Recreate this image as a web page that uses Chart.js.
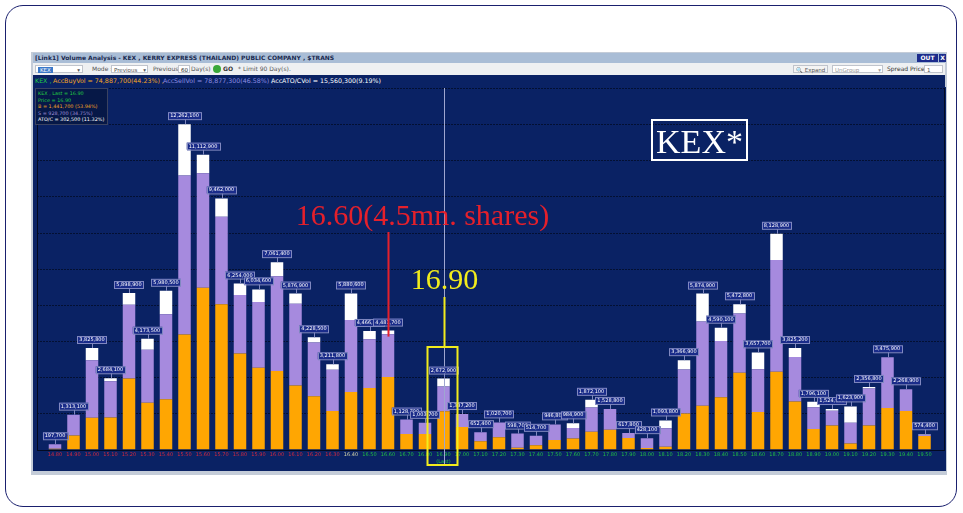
<!DOCTYPE html>
<html>
<head>
<meta charset="utf-8">
<script src="https://cdn.jsdelivr.net/npm/chart.js@4.4.1/dist/chart.umd.min.js"></script>
<style>
  body { margin: 0; background: #fff; width: 963px; height: 513px; overflow: hidden; font-family: 'DejaVu Sans', sans-serif; }
  .abs { position: absolute; }
  #frame { left: 5px; top: 5px; width: 950px; height: 500px; border: 1.8px solid #1a206e; border-radius: 18px; }
  #shot { left: 31px; top: 52px; width: 916px; height: 423px; background: #c4ccd8; }
  #titlebar { left: 33px; top: 53px; width: 912px; height: 10px; background: #a9bdd6; font: bold 6px 'DejaVu Sans'; color: #1a2a50; line-height: 10px; white-space: nowrap; }
  #toolbar { left: 33px; top: 63px; width: 912px; height: 12px; background: #eef0f2; font: 6px 'DejaVu Sans'; color: #555; line-height: 12px; white-space: nowrap; }
  #infobar { left: 33px; top: 75px; width: 912px; height: 12px; background: #0a2264; font: 6.3px 'DejaVu Sans'; line-height: 12px; white-space: nowrap; }
  .box { position: absolute; top: 2px; height: 8px; background: #fff; border: 1px solid #c0c4cc; line-height: 8px; font-size: 5.5px; color: #555; box-sizing: border-box; padding-left: 2px; }
  #legendBox { left: 35px; top: 88px; width: 73px; height: 37px; background: #061847; border: 1px solid #3a4260; font: 4.9px 'DejaVu Sans'; line-height: 6.6px; padding: 1px 0 0 2px; box-sizing: border-box; white-space: nowrap; overflow: hidden; }
  #volChart { position: absolute; left: 33px; top: 87px; }
</style>
</head>
<body>
<div id="frame" class="abs"></div>
<div id="shot" class="abs"></div>
<div id="titlebar" class="abs">
  <span style="position:absolute;left:2px">[Link1] Volume Analysis - KEX , KERRY EXPRESS (THAILAND) PUBLIC COMPANY , $TRANS</span>
  <span style="position:absolute;left:884px;top:1px;width:21px;height:8px;background:#1c2c8c;color:#fff;line-height:8px;text-align:center">OUT</span>
  <span style="position:absolute;left:906px;top:1px;width:7px;height:8px;background:#1c2c8c;color:#fff;line-height:8px;text-align:center">X</span>
</div>
<div id="toolbar" class="abs">
  <span class="box" style="left:2px;width:48px"><span style="background:#3a78c8;color:#fff;padding:0 2px">KEX</span><span style="position:absolute;right:2px">▾</span></span>
  <span style="position:absolute;left:59px">Mode :</span>
  <span class="box" style="left:78px;width:37px">Previous<span style="position:absolute;right:1px">▾</span></span>
  <span style="position:absolute;left:120px">Previous :</span>
  <span class="box" style="left:145px;width:12px;color:#222">60</span>
  <span style="position:absolute;left:158px">Day(s)</span>
  <span style="position:absolute;left:180px;top:2px;width:8px;height:8px;border-radius:4px;background:#3aa83a"></span>
  <span style="position:absolute;left:190px;font-weight:bold;color:#333">GO</span>
  <span style="position:absolute;left:205px">* Limit 90 Day(s).</span>
  <span class="box" style="left:760px;width:35px;background:#f4f4f4">🔍 Expand</span>
  <span class="box" style="left:799px;width:51px;color:#999">UnGroup<span style="position:absolute;right:1px">▾</span></span>
  <span style="position:absolute;left:854px;color:#333">Spread Price :</span>
  <span class="box" style="left:891px;width:19px">1</span>
</div>
<div id="infobar" class="abs">
  <span style="position:absolute;left:2px;color:#22cc44">KEX ,</span>
  <span style="position:absolute;left:20px;color:#f5a623">AccBuyVol = 74,887,700(44.23%) ,</span>
  <span style="position:absolute;left:130px;color:#8c8ce0">AccSellVol = 78,877,300(46.58%) ,</span>
  <span style="position:absolute;left:238px;color:#ffffff">AccATO/CVol = 15,560,300(9.19%)</span>
</div>
<canvas id="volChart" width="913" height="384"></canvas>
<div id="legendBox" class="abs">
  <div style="color:#22cc44">KEX , Last = 16.90</div>
  <div style="color:#22cc44">Price = 16.90</div>
  <div style="color:#f5a623">B = 1,441,700 (53.94%)</div>
  <div style="color:#a090d8">S = 928,700 (34.75%)</div>
  <div style="color:#ffffff">ATO/C = 302,500 (11.32%)</div>
</div>
<script>
// price steps (x axis)
const priceLabels = ['14.80', '14.90', '15.00', '15.10', '15.20', '15.30', '15.40', '15.50', '15.60', '15.70',
	'15.80', '15.90', '16.00', '16.10', '16.20', '16.30', '16.40', '16.50', '16.60', '16.70',
	'16.80', '16.90', '17.00', '17.10', '17.20', '17.30', '17.40', '17.50', '17.60', '17.70',
	'17.80', '17.90', '18.00', '18.10', '18.20', '18.30', '18.40', '18.50', '18.60', '18.70',
	'18.80', '18.90', '19.00', '19.10', '19.20', '19.30', '19.40', '19.50'];

// buy volume (orange)
const buyVol = [30000, 530000, 1200000, 1210000, 2680000, 1760000, 1890000, 4330000, 6100000, 5470000,
	3620000, 3080000, 2960000, 2410000, 2010000, 1450000, 2170000, 2320000, 2730000, 580000,
	580000, 1441700, 850000, 310000, 460000, 70000, 160000, 360000, 410000, 670000,
	740000, 430000, 60000, 100000, 1360000, 1650000, 1970000, 2890000, 1410000, 2930000,
	1810000, 770000, 900000, 230000, 900000, 1560000, 1450000, 510000];

// sell volume (purple)
const sellVol = [167700, 783100, 2165800, 1364100, 2778900, 2003500, 3210500, 5992100, 4312900, 3302000,
	2204000, 2474600, 3571400, 3086900, 2018500, 1551800, 2710600, 1836900, 1611700, 548700,
	423700, 928700, 487200, 342400, 560700, 528700, 354700, 586800, 404900, 912100,
	788800, 187800, 368100, 703800, 1656900, 3174900, 2120100, 2232800, 1617700, 4208900,
	1675200, 826100, 564900, 773900, 1396800, 1915900, 818900, 44400];

// ATO/C volume (white)
const atoVol = [0, 0, 460000, 110000, 440000, 410000, 880000, 1940000, 700000, 690000,
	430000, 480000, 530000, 380000, 200000, 210000, 1000000, 310000, 140000, 0,
	0, 302500, 0, 0, 0, 0, 0, 0, 170000, 290000,
	0, 0, 0, 290000, 350000, 1050000, 500000, 350000, 630000, 990000,
	340000, 200000, 60000, 620000, 60000, 0, 0, 20000];

// total volume written above each bar
const totalVol = [197700, 1313100, 3825800, 2684100, 5898900, 4173500, 5980500, 12262100, 11112900, 9462000,
	6254000, 6034600, 7061400, 5876900, 4228500, 3211800, 5880600, 4466900, 4481700, 1128700,
	1003700, 2672900, 1337200, 652400, 1020700, 598700, 514700, 946800, 984900, 1872100,
	1528800, 617800, 428100, 1093800, 3366900, 5874900, 4590100, 5472800, 3657700, 8128900,
	3825200, 1796100, 1524900, 1623900, 2356800, 3475900, 2268900, 574400];

const lastIdx = 21;      // 16.90 (Last)
const bigIdx = 18;       // 16.60 (4.5mn. shares)
const maxVol = 12262100; // tallest bar sits on the 9th grid line
const gridStep = maxVol / 9;

const NAVY = '#0a2264';

function tickColor(i) {
	if (i < 16) return '#d8283c';
	if (i == 16) return '#d8d8a8';
	return '#20c040';
}

const panelPlugin = {
	id: 'panel',
	beforeDraw(chart) {
		const ctx = chart.ctx;
		const y = chart.scales.y;
		ctx.save();
		ctx.fillStyle = NAVY;
		ctx.fillRect(0, 0, chart.width, chart.height);
		// grid lines over the full panel
		ctx.strokeStyle = '#031033';
		ctx.lineWidth = 1;
		ctx.setLineDash([2, 1]);
		for (let k = 1; k <= 10; k++) {
			const py = Math.round(y.getPixelForValue(k * gridStep)) + 0.5;
			ctx.beginPath();
			ctx.moveTo(4, py);
			ctx.lineTo(912, py);
			ctx.stroke();
		}
		ctx.setLineDash([]);
		const base = Math.round(y.getPixelForValue(0)) + 0.5;
		ctx.strokeStyle = '#020a22';
		ctx.beginPath();
		ctx.moveTo(4, base);
		ctx.lineTo(912, base);
		ctx.moveTo(4.5, 1);
		ctx.lineTo(4.5, base);
		ctx.moveTo(911.5, 1);
		ctx.lineTo(911.5, base);
		ctx.stroke();
		ctx.restore();
	},
	afterDatasetsDraw(chart) {
		const ctx = chart.ctx;
		const x = chart.scales.x;
		const tops = chart.getDatasetMeta(2).data;
		ctx.save();

		// cursor line at the last price
		const lx = Math.round(x.getPixelForValue(lastIdx)) + 0.5;
		ctx.strokeStyle = '#9ea6d0';
		ctx.lineWidth = 1;
		ctx.beginPath();
		ctx.moveTo(lx, 1);
		ctx.lineTo(lx, chart.height - 6);
		ctx.stroke();

		// total volume boxes
		ctx.font = '5px "DejaVu Sans"';
		ctx.textAlign = 'center';
		ctx.textBaseline = 'middle';
		totalVol.forEach((v, i) => {
			const bx = tops[i].x;
			const by = tops[i].y;
			const txt = v.toLocaleString('en-US');
			const w = ctx.measureText(txt).width + 4;
			ctx.strokeStyle = '#8088c0';
			ctx.beginPath();
			ctx.moveTo(Math.round(bx) + 0.5, by);
			ctx.lineTo(Math.round(bx) + 0.5, by - 5);
			ctx.stroke();
			ctx.fillStyle = '#1a2c8a';
			ctx.fillRect(bx - w / 2, by - 12, w, 7);
			ctx.strokeRect(Math.round(bx - w / 2) + 0.5, by - 12 + 0.5, Math.round(w), 7);
			ctx.fillStyle = '#ffffff';
			ctx.fillText(txt, bx, by - 8.3);
		});

		// red note at 16.60
		const rx = Math.round(x.getPixelForValue(bigIdx)) + 0.5;
		ctx.strokeStyle = '#e5202b';
		ctx.lineWidth = 2;
		ctx.beginPath();
		ctx.moveTo(rx, 145);
		ctx.lineTo(rx, tops[bigIdx].y + 6);
		ctx.stroke();
		ctx.font = '30px "Liberation Serif"';
		ctx.textBaseline = 'alphabetic';
		ctx.fillStyle = '#e5202b';
		ctx.fillText('16.60(4.5mn. shares)', rx + 34, 138);

		// yellow note at 16.90
		ctx.strokeStyle = '#f2ec1c';
		ctx.fillStyle = '#f2ec1c';
		ctx.fillText('16.90', lx, 202);
		ctx.beginPath();
		ctx.moveTo(lx, 210);
		ctx.lineTo(lx, 260);
		ctx.stroke();
		ctx.strokeRect(lx - 17, 260, 30, 118);

		// KEX* tag
		ctx.strokeStyle = '#ffffff';
		ctx.strokeRect(619, 33, 95, 40);
		ctx.fillStyle = '#ffffff';
		ctx.font = '34px "Liberation Serif"';
		ctx.fillText('KEX*', 666.5, 66);
		ctx.restore();
	}
};

const volChart = new Chart(document.getElementById('volChart'), {
	type: 'bar',
	data: {
		labels: priceLabels.map((p, i) => (i == lastIdx ? [p, '(Last)'] : p)),
		datasets: [
			{ label: 'Buy', data: buyVol, backgroundColor: '#ffa602' },
			{ label: 'Sell', data: sellVol, backgroundColor: '#a68ade' },
			{ label: 'ATO/C', data: atoVol, backgroundColor: '#ffffff' },
		],
	},
	options: {
		responsive: false,
		animation: false,
		layout: { padding: { left: 12.75, right: 12.25, top: 1, bottom: 0 } },
		datasets: { bar: { categoryPercentage: 1, barPercentage: 12.5 / 18.5 } },
		plugins: { legend: { display: false }, tooltip: { enabled: false } },
		scales: {
			x: {
				stacked: true,
				grid: { display: false, drawTicks: false },
				border: { display: false },
				ticks: {
					autoSkip: false,
					maxRotation: 0,
					padding: 2,
					font: { size: 5, family: 'DejaVu Sans', lineHeight: 1.3 },
					color: (c) => tickColor(c.index),
				},
				afterFit(scale) {
					scale.height = 21.5;
				},
			},
			y: {
				stacked: true,
				display: false,
				min: 0,
				max: gridStep * 10,
			},
		},
	},
	plugins: [panelPlugin],
});
</script>
</body>
</html>
